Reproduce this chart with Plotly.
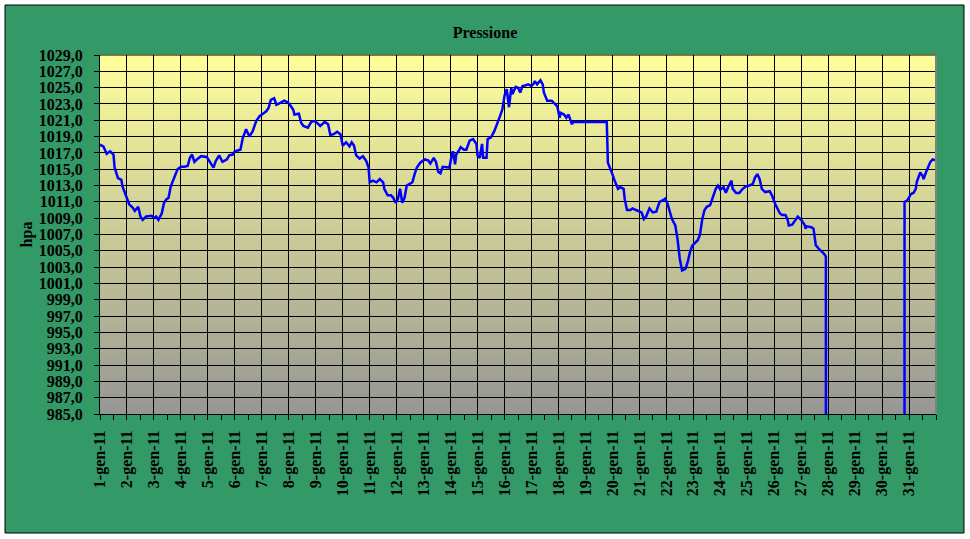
import plotly.graph_objects as go
import pandas as pd

# ---- data ----
hours = [0, 3, 6, 9, 12, 13, 16, 19, 20, 23, 26, 29, 31, 34, 36, 38, 41, 46, 48, 50,
         52, 55, 57, 59, 61, 63, 66, 69, 72, 75, 78, 80, 82, 84, 87, 90, 95, 98, 101, 103,
         106, 109, 113, 115, 118, 120, 125, 127, 130, 133, 136, 139, 142, 145, 148, 150, 152, 155, 157, 160,
         164, 167, 169, 172, 173, 177, 179, 181, 185, 188, 191, 193, 196, 200, 203, 205, 208, 211, 214, 216,
         219, 222, 224, 226, 228, 231, 234, 237, 239, 240, 243, 246, 249, 252, 253, 256, 259, 261, 263, 265,
         267, 269, 271, 273, 275, 278, 280, 282, 285, 289, 292, 294, 297, 299, 301, 303, 305, 311, 313, 314,
         316, 317, 319, 321, 324, 326, 329, 332, 335, 336, 338, 340, 341, 344, 345, 348, 351, 354, 356, 358,
         360, 362, 364, 366, 367, 370, 372, 374, 376, 379, 381, 384, 386, 387, 389, 392, 394, 395, 398, 402,
         405, 407, 409, 410, 413, 415, 417, 419, 420, 421, 451, 452, 454, 456, 458, 461, 463, 466, 467, 469,
         472, 474, 477, 480, 482, 484, 486, 489, 492, 495, 498, 501, 503, 505, 507, 509, 512, 514, 516, 518,
         521, 523, 525, 527, 529, 532, 534, 536, 538, 540, 543, 546, 548, 550, 552, 555, 557, 559, 562, 563,
         566, 569, 572, 575, 578, 581, 583, 585, 587, 589, 592, 596, 598, 601, 603, 605, 607, 610, 612, 613,
         616, 619, 621, 624, 627, 628, 629, 633, 635, 636, 637, 640, 642, 644, 646, 647, 715, 716, 718, 720,
         722, 724, 726, 727, 729, 730, 732, 733, 735, 737, 739, 741, 743]

pressure = [1018.0, 1017.8, 1016.9, 1017.2, 1016.8, 1015.2, 1013.9, 1013.7, 1012.9, 1011.9,
            1010.7, 1010.3, 1009.9, 1010.4, 1009.2, 1008.8, 1009.2, 1009.3, 1009.0, 1009.2,
            1008.8, 1009.6, 1010.9, 1011.3, 1011.5, 1012.9, 1013.9, 1015.0, 1015.3, 1015.3,
            1015.4, 1016.4, 1016.8, 1015.9, 1016.3, 1016.6, 1016.5, 1015.8, 1015.2, 1016.0,
            1016.7, 1015.9, 1016.2, 1016.7, 1016.8, 1017.2, 1017.4, 1018.8, 1019.9, 1019.0,
            1019.7, 1020.9, 1021.5, 1021.8, 1022.1, 1022.5, 1023.5, 1023.7, 1022.9, 1023.1,
            1023.4, 1023.2, 1022.9, 1022.3, 1021.7, 1021.8, 1020.7, 1020.3, 1020.1, 1020.8,
            1020.9, 1020.7, 1020.3, 1020.8, 1020.5, 1019.2, 1019.3, 1019.6, 1019.3, 1017.9,
            1018.3, 1017.8, 1018.3, 1017.9, 1016.7, 1016.3, 1016.6, 1016.0, 1015.2, 1013.4,
            1013.6, 1013.4, 1013.8, 1013.4, 1012.6, 1011.8, 1011.8, 1011.5, 1010.9, 1011.3,
            1012.6, 1010.9, 1011.5, 1013.0, 1013.2, 1013.4, 1014.4, 1015.2, 1015.8, 1016.2,
            1016.1, 1015.7, 1016.4, 1015.9, 1014.7, 1014.5, 1015.3, 1015.2, 1016.7, 1017.2,
            1015.6, 1016.8, 1017.2, 1017.7, 1017.4, 1017.4, 1018.5, 1018.7, 1018.1, 1016.7,
            1016.4, 1018.1, 1016.4, 1016.4, 1018.7, 1018.9, 1019.7, 1020.7, 1021.5, 1022.3,
            1024.0, 1024.8, 1022.6, 1025.0, 1024.2, 1025.1, 1025.0, 1024.4, 1025.2, 1025.3,
            1025.4, 1025.2, 1025.5, 1025.8, 1025.4, 1025.9, 1025.4, 1024.4, 1023.4, 1023.4,
            1023.0, 1022.7, 1021.3, 1021.9, 1021.7, 1021.3, 1021.7, 1020.8, 1020.5, 1020.8,
            1020.8, 1015.8, 1015.2, 1014.4, 1013.6, 1012.6, 1012.8, 1012.6, 1011.3, 1010.0,
            1010.0, 1010.2, 1010.0, 1009.8, 1009.7, 1008.9, 1009.2, 1010.2, 1009.7, 1009.8,
            1011.0, 1011.2, 1011.4, 1010.8, 1009.7, 1008.9, 1008.1, 1006.4, 1004.0, 1002.6,
            1002.8, 1003.6, 1004.8, 1005.6, 1005.9, 1006.3, 1007.0, 1008.9, 1010.0, 1010.4,
            1010.6, 1011.7, 1012.6, 1013.0, 1012.5, 1012.8, 1012.1, 1012.8, 1013.6, 1012.6,
            1012.1, 1012.1, 1012.6, 1012.9, 1013.0, 1013.2, 1014.0, 1014.4, 1013.8, 1012.6,
            1012.2, 1012.3, 1011.8, 1010.7, 1010.1, 1009.6, 1009.4, 1009.4, 1008.8, 1008.1,
            1008.2, 1008.8, 1009.2, 1008.8, 1008.2, 1007.7, 1008.0, 1007.9, 1007.7, 1006.7,
            1005.7, 1005.2, 1005.0, 1004.7, 1004.3, 0.0, 0.0, 1011.0, 1011.1, 1011.5,
            1012.0, 1012.1, 1012.6, 1013.5, 1014.1, 1014.6, 1014.2, 1013.8, 1014.6, 1015.2,
            1015.9, 1016.2, 1016.1]

days = list(range(1, 32))
tick_labels = [f"{d}-gen-11" for d in days]
y_min, y_max = 985, 1029

# ---- figure ----
start = pd.Timestamp("2011-01-01")
x = [start + pd.Timedelta(hours=h) for h in hours]
tickvals = [start + pd.Timedelta(days=d - 1) for d in days]

W, H = 970, 539
L, R, T, B = 100, 34, 55, 125
pw, ph = W - L - R, H - T - B


def px_x(p):
    return (p - L) / pw


def px_y(p):
    return (H - B - p) / ph


shapes = []
# outer green chart area with black border
shapes.append(dict(type="rect", xref="paper", yref="paper",
                   x0=px_x(5), x1=px_x(964), y0=px_y(533), y1=px_y(5),
                   fillcolor="#339966", line=dict(color="black", width=1), layer="below"))
# gradient plot background (yellow -> gray)
top_c = (255, 255, 153)
bot_c = (150, 150, 150)
nb = 120
for i in range(nb):
    t = (i + 0.5) / nb
    c = tuple(round(bot_c[k] + (top_c[k] - bot_c[k]) * t) for k in range(3))
    shapes.append(dict(type="rect", xref="paper", yref="paper",
                       x0=0, x1=1, y0=i / nb, y1=(i + 1) / nb + 0.002,
                       fillcolor=f"rgb{c}", line=dict(width=0), layer="below"))
# plot border: top black, right gray
shapes.append(dict(type="line", xref="paper", yref="paper", x0=0, x1=1, y0=1, y1=1,
                   line=dict(color="black", width=1), layer="above"))
shapes.append(dict(type="line", xref="paper", yref="paper", x0=1, x1=1, y0=0, y1=1,
                   line=dict(color="#808080", width=2), layer="above"))

fig = go.Figure()
fig.add_trace(go.Scatter(x=x, y=pressure, mode="lines",
                         line=dict(color="#0000FF", width=2.5),
                         hoverinfo="x+y", showlegend=False))

font_family = "Liberation Serif, Times New Roman, serif"
fig.update_layout(
    width=W, height=H,
    margin=dict(l=L, r=R, t=T, b=B, pad=0),
    paper_bgcolor="white",
    plot_bgcolor="rgba(0,0,0,0)",
    separators=",.",
    font=dict(family=font_family, size=16, color="black"),
    title=dict(text="Pressione", x=0.5, xref="container", xanchor="center",
               y=1 - 32 / H, yref="container", yanchor="middle",
               font=dict(family=font_family, size=16, color="black", weight="bold")),
    shapes=shapes,
    xaxis=dict(
        type="date",
        range=[start, start + pd.Timedelta(days=31)],
        tickmode="array", tickvals=tickvals, ticktext=tick_labels,
        tickangle=-90,
        tickfont=dict(family=font_family, size=16, color="black", weight="bold"),
        ticks="outside", ticklen=5, tickwidth=1, tickcolor="black",
        ticklabelstandoff=4,
        showgrid=True, gridcolor="black", gridwidth=1,
        showline=True, linecolor="black", linewidth=1,
        zeroline=False,
        minor=dict(dtick=12 * 3600 * 1000, tick0=start, ticks="outside",
                   ticklen=5, tickwidth=1, tickcolor="black", showgrid=False),
    ),
    yaxis=dict(
        range=[y_min, y_max],
        tickmode="linear", tick0=y_min, dtick=2,
        tickformat=".1f",
        tickfont=dict(family=font_family, size=16, color="black", weight="bold"),
        ticks="outside", ticklen=5, tickwidth=1, tickcolor="black",
        ticklabelstandoff=8,
        showgrid=True, gridcolor="black", gridwidth=1,
        showline=True, linecolor="black", linewidth=1,
        zeroline=False,
        title=dict(text="hpa", standoff=2,
                   font=dict(family=font_family, size=16, color="black", weight="bold")),
    ),
)

fig.write_html("out.html", config={"displayModeBar": False},
               post_script="document.body.style.margin='0';document.body.style.overflow='hidden';")
